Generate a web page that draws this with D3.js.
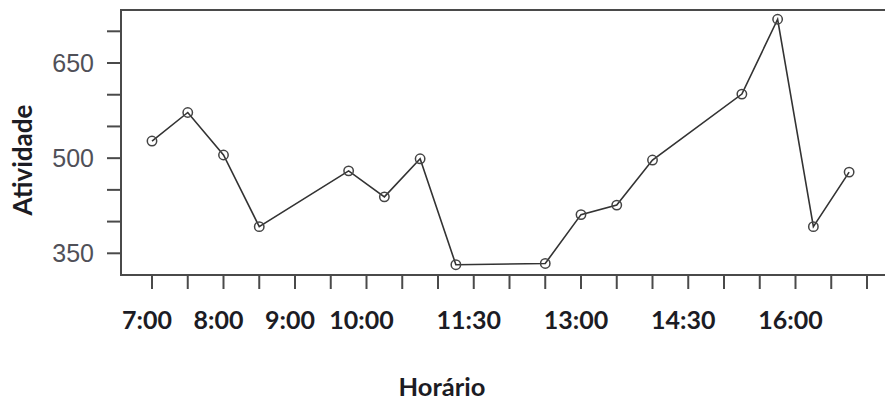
<!DOCTYPE html>
<html>
<head>
<meta charset="utf-8">
<script src="https://cdn.jsdelivr.net/npm/d3@7"></script>
<style>
  html, body { margin: 0; padding: 0; background: #fff; }
  svg { display: block; }
</style>
</head>
<body>
<svg id="chart" width="885" height="400"></svg>
<script>
// ---- data ----
const times = [7.0, 7.5, 8.0, 8.5, 9.75, 10.25, 10.75, 11.25, 12.5, 13.0, 13.5, 14.0, 15.25, 15.75, 16.25, 16.75];
const atividade = [527, 572, 505, 392, 480, 439, 499, 332, 334, 411, 426, 497, 601, 719, 392, 478];
const xTickValues = [7,7.5,8,8.5,9,9.5,10,10.5,11,11.5,12,12.5,13,13.5,14,14.5,15,15.5,16,16.5,17];
const xLabelValues = [7, 8, 9, 10, 11.5, 13, 14.5, 16];
const xLabelTexts = ["7:00", "8:00", "9:00", "10:00", "11:30", "13:00", "14:30", "16:00"];
const yTickValues = [350, 400, 450, 500, 550, 600, 650, 700];
const yLabelValues = [350, 500, 650];
const xTitle = "Horário";
const yTitle = "Atividade";

// ---- layout ----
const svg = d3.select("#chart");
const frame = { left: 121, top: 10, bottom: 275, right: 890 };
const x = d3.scaleLinear().domain([7, 17]).range([152, 867]);
const y = d3.scaleLinear().domain([350, 700]).range([253.3, 31.3]);

const axisColor = "#4a4a4a";

// frame (open at the right)
svg.append("path")
  .attr("d", `M${frame.right},${frame.top}H${frame.left}V${frame.bottom}H${frame.right}`)
  .attr("fill", "none").attr("stroke", axisColor).attr("stroke-width", 2);

// y ticks
svg.append("g").selectAll("line").data(yTickValues).join("line")
  .attr("x1", frame.left - 14).attr("x2", frame.left)
  .attr("y1", d => y(d)).attr("y2", d => y(d))
  .attr("stroke", axisColor).attr("stroke-width", 2);

svg.append("g").selectAll("text").data(yLabelValues).join("text")
  .attr("x", 94).attr("y", d => y(d))
  .attr("dy", "0.36em")
  .attr("text-anchor", "end")
  .attr("font-family", "'Liberation Sans', Arial, sans-serif")
  .attr("font-size", 25)
  .attr("fill", "#505058")
  .text(d => d);

// x ticks
svg.append("g").selectAll("line").data(xTickValues).join("line")
  .attr("x1", d => x(d)).attr("x2", d => x(d))
  .attr("y1", frame.bottom).attr("y2", frame.bottom + 14)
  .attr("stroke", axisColor).attr("stroke-width", 2);

svg.append("g").selectAll("text").data(xLabelValues).join("text")
  .attr("x", d => x(d) - 5).attr("y", 329)
  .attr("text-anchor", "middle")
  .attr("font-family", "Lato, 'Open Sans', sans-serif")
  .attr("font-weight", "bold")
  .attr("font-size", 25)
  .attr("fill", "#1c1c24")
  .text((d, i) => xLabelTexts[i]);

// titles
svg.append("text")
  .attr("x", 442).attr("y", 396)
  .attr("text-anchor", "middle")
  .attr("font-family", "Lato, 'Open Sans', sans-serif")
  .attr("font-weight", "bold")
  .attr("font-size", 25.5)
  .attr("fill", "#1c1c24")
  .text(xTitle);

svg.append("text")
  .attr("transform", "translate(32,160) rotate(-90)")
  .attr("text-anchor", "middle")
  .attr("font-family", "Lato, 'Open Sans', sans-serif")
  .attr("font-weight", "bold")
  .attr("font-size", 26)
  .attr("fill", "#1c1c24")
  .text(yTitle);

// line
const pts = times.map((t, i) => [t, atividade[i]]);
svg.append("path")
  .datum(pts)
  .attr("d", d3.line().x(d => x(d[0])).y(d => y(d[1])))
  .attr("fill", "none").attr("stroke", "#333").attr("stroke-width", 1.6);

// points
svg.append("g").selectAll("circle").data(pts).join("circle")
  .attr("cx", d => x(d[0])).attr("cy", d => y(d[1]))
  .attr("r", 4.7)
  .attr("fill", "none").attr("stroke", "#444").attr("stroke-width", 1.5);
</script>
</body>
</html>
